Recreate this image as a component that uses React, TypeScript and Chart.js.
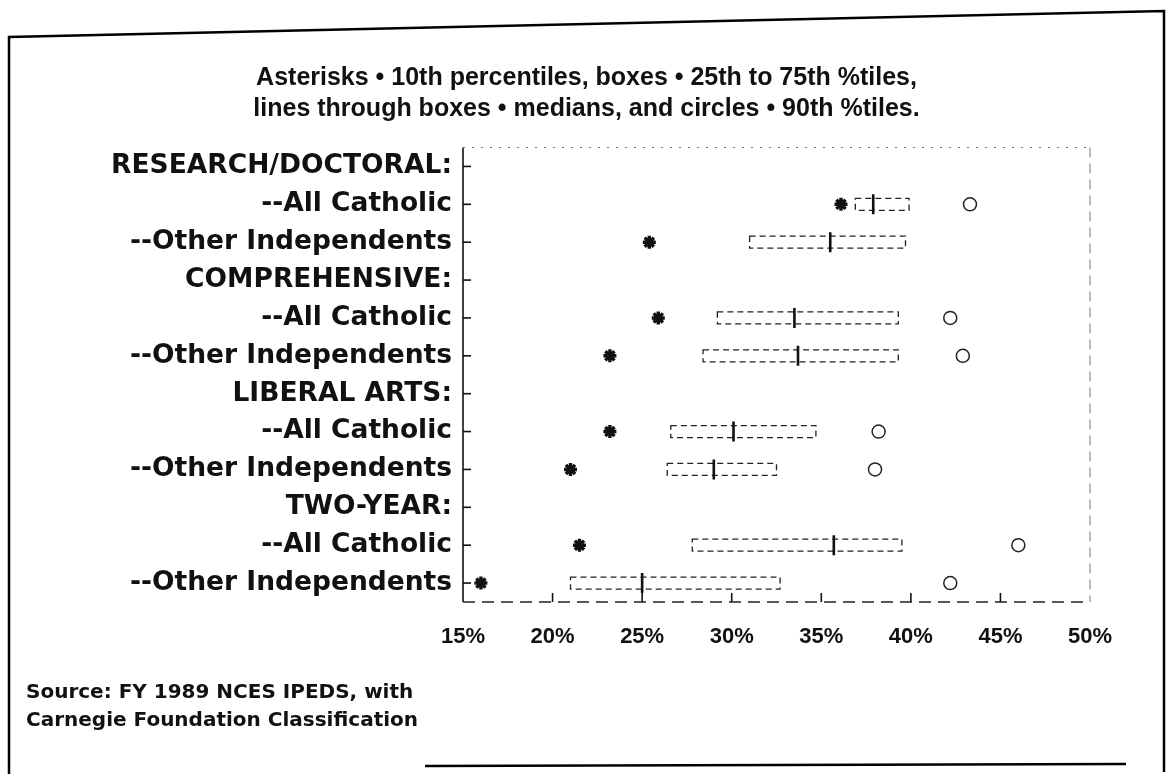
import React, { useEffect, useRef } from "react";
import { Chart, registerables } from "chart.js";

Chart.register(...registerables);

// ---- data (percent values per institution group) ----
const rowLabels = [
  "RESEARCH/DOCTORAL:",
  "--All Catholic",
  "--Other Independents",
  "COMPREHENSIVE:",
  "--All Catholic",
  "--Other Independents",
  "LIBERAL ARTS:",
  "--All Catholic",
  "--Other Independents",
  "TWO-YEAR:",
  "--All Catholic",
  "--Other Independents",
];
const p10Values = [null, 36.1, 25.4, null, 25.9, 23.2, null, 23.2, 21.0, null, 21.5, 16.0];
const q1Values = [null, 36.9, 31.0, null, 29.2, 28.4, null, 26.6, 26.4, null, 27.8, 21.0];
const medianValues = [null, 37.9, 35.5, null, 33.5, 33.7, null, 30.1, 29.0, null, 35.7, 25.0];
const q3Values = [null, 39.9, 39.7, null, 39.3, 39.3, null, 34.7, 32.5, null, 39.5, 32.7];
const p90Values = [null, 43.3, null, null, 42.2, 42.9, null, 38.2, 38.0, null, 46.0, 42.2];

const xTickValues = [15, 20, 25, 30, 35, 40, 45, 50];
const titleLines = [
  "Asterisks \u2022 10th percentiles, boxes \u2022 25th to 75th %tiles,",
  "lines through boxes \u2022 medians, and circles \u2022 90th %tiles.",
];
const sourceLines = ["Source: FY 1989 NCES IPEDS, with", "Carnegie Foundation Classification"];

const FONT = "'Liberation Sans', Arial, Helvetica, sans-serif";
const WIDE_FONT = "'DejaVu Sans', 'Liberation Sans', sans-serif";
const INK = "#111";

const toPoints = (vals: (number | null)[]) =>
  vals
    .map((v, i) => (v == null ? null : { x: v, y: i }))
    .filter((p) => p !== null) as { x: number; y: number }[];

const boxData = rowLabels
  .map((_, i) =>
    q1Values[i] == null || q3Values[i] == null ? null : { x: [q1Values[i], q3Values[i]], y: i }
  )
  .filter((p) => p !== null);

const BOX_INDEX = 0;

const scanPlugin = {
  id: "scanFrame",
  beforeDraw(chart: any) {
    const { ctx, width, height } = chart;
    ctx.save();
    ctx.fillStyle = "#fff";
    ctx.fillRect(0, 0, width, height);
    ctx.restore();
  },
  afterDatasetDraw(chart: any, args: any) {
    if (args.index !== BOX_INDEX) return;
    const ctx = chart.ctx;
    ctx.save();
    ctx.strokeStyle = "#222";
    ctx.lineWidth = 1.3;
    ctx.setLineDash([6, 4]);
    for (const el of args.meta.data) {
      const { x, y, base, height } = el.getProps(["x", "y", "base", "height"], true);
      const left = Math.min(x, base);
      const right = Math.max(x, base);
      ctx.strokeRect(left, y - height / 2, right - left, height);
    }
    ctx.restore();
  },
  afterDraw(chart: any) {
    const { ctx, chartArea: a, scales } = chart;
    ctx.save();
    // outer page frame (scanned box)
    ctx.strokeStyle = "#000";
    ctx.lineWidth = 2.5;
    ctx.beginPath();
    ctx.moveTo(9, 774);
    ctx.lineTo(9, 37);
    ctx.lineTo(1164, 11);
    ctx.lineTo(1164, 772);
    ctx.stroke();
    ctx.beginPath();
    ctx.moveTo(425, 766);
    ctx.lineTo(1126, 764);
    ctx.stroke();

    // plot frame
    ctx.lineWidth = 1.6;
    ctx.strokeStyle = "#111";
    ctx.beginPath();
    ctx.moveTo(a.left, a.top);
    ctx.lineTo(a.left, a.bottom);
    ctx.stroke();
    ctx.lineWidth = 1;
    ctx.strokeStyle = "#777";
    ctx.setLineDash([2, 7]);
    ctx.beginPath();
    ctx.moveTo(a.left, a.top);
    ctx.lineTo(a.right, a.top);
    ctx.stroke();
    ctx.setLineDash([10, 6]);
    ctx.beginPath();
    ctx.moveTo(a.right, a.top);
    ctx.lineTo(a.right, a.bottom);
    ctx.stroke();
    ctx.strokeStyle = "#222";
    ctx.lineWidth = 1.3;
    ctx.setLineDash([12, 7]);
    ctx.beginPath();
    ctx.moveTo(a.left, a.bottom);
    ctx.lineTo(a.right, a.bottom);
    ctx.stroke();
    ctx.setLineDash([]);

    // inward tick marks
    ctx.strokeStyle = "#111";
    ctx.lineWidth = 1.6;
    rowLabels.forEach((_, i) => {
      const py = scales.y.getPixelForValue(i);
      ctx.beginPath();
      ctx.moveTo(a.left, py);
      ctx.lineTo(a.left + 8, py);
      ctx.stroke();
    });
    xTickValues.slice(1, -1).forEach((v) => {
      const px = scales.x.getPixelForValue(v);
      ctx.beginPath();
      ctx.moveTo(px, a.bottom);
      ctx.lineTo(px, a.bottom - 9);
      ctx.stroke();
    });

    // source note
    ctx.fillStyle = INK;
    ctx.font = `bold 20px ${WIDE_FONT}`;
    ctx.textBaseline = "middle";
    ctx.textAlign = "left";
    sourceLines.forEach((line, i) => ctx.fillText(line, 26, 693 + i * 28));
    ctx.restore();
  },
};

export default function App() {
  const canvasRef = useRef<HTMLCanvasElement | null>(null);

  useEffect(() => {
    if (!canvasRef.current) return;
    const chart = new Chart(canvasRef.current, {
      type: "scatter",
      data: {
        datasets: [
          {
            type: "bar",
            label: "25th to 75th %tiles",
            indexAxis: "y",
            data: boxData as any,
            backgroundColor: "rgba(0,0,0,0)",
            borderWidth: 0,
            barThickness: 12,
            order: 10,
          } as any,
          {
            label: "medians",
            data: toPoints(medianValues),
            pointStyle: "line",
            rotation: 90,
            radius: 10,
            borderWidth: 2.6,
            borderColor: INK,
            order: 1,
          } as any,
          {
            label: "10th percentiles",
            data: toPoints(p10Values),
            pointStyle: "star",
            radius: 6.5,
            borderWidth: 3.4,
            borderColor: INK,
            backgroundColor: INK,
            order: 0,
          } as any,
          {
            label: "90th %tiles",
            data: toPoints(p90Values),
            pointStyle: "circle",
            radius: 6.5,
            borderWidth: 1.5,
            borderColor: "#222",
            backgroundColor: "#fff",
            order: 0,
          } as any,
        ],
      },
      options: {
        animation: false,
        responsive: false,
        devicePixelRatio: 1,
        layout: { padding: 0 },
        plugins: {
          legend: { display: false },
          tooltip: { enabled: false },
          title: {
            display: true,
            text: titleLines,
            color: INK,
            font: { family: FONT, size: 25, weight: "bold", lineHeight: 1.25 },
            padding: { top: 62, bottom: 23 },
          },
        },
        scales: {
          x: {
            type: "linear",
            min: 15,
            max: 50,
            offset: false,
            afterBuildTicks: (scale: any) => {
              scale.ticks = xTickValues.map((v) => ({ value: v }));
            },
            afterFit: (scale: any) => {
              scale.height = 172;
            },
            grid: { display: false },
            border: { display: false },
            ticks: {
              color: INK,
              padding: 14,
              font: { family: FONT, size: 22, weight: "bold" },
              callback: (v: any) => `${v}%`,
            },
          },
          y: {
            type: "linear",
            min: -0.5,
            max: 11.5,
            reverse: true,
            offset: false,
            afterBuildTicks: (scale: any) => {
              scale.ticks = rowLabels.map((_, i) => ({ value: i }));
            },
            afterFit: (scale: any) => {
              scale.width = 463;
            },
            grid: { display: false, offset: false },
            border: { display: false },
            ticks: {
              color: INK,
              padding: 3,
              autoSkip: false,
              font: { family: WIDE_FONT, size: 26.5, weight: "bold" },
              callback: (v: any) => rowLabels[v] ?? "",
            },
          },
          yRight: {
            type: "linear",
            position: "right",
            display: true,
            grid: { display: false },
            border: { display: false },
            ticks: { display: false },
            afterFit: (scale: any) => {
              scale.width = 83;
            },
          },
        },
      },
      plugins: [scanPlugin],
    } as any);
    return () => chart.destroy();
  }, []);

  return (
    <div style={{ position: "fixed", left: 0, top: 0, width: 1173, height: 774, background: "#fff" }}>
      <canvas ref={canvasRef} width={1173} height={774} />
    </div>
  );
}
